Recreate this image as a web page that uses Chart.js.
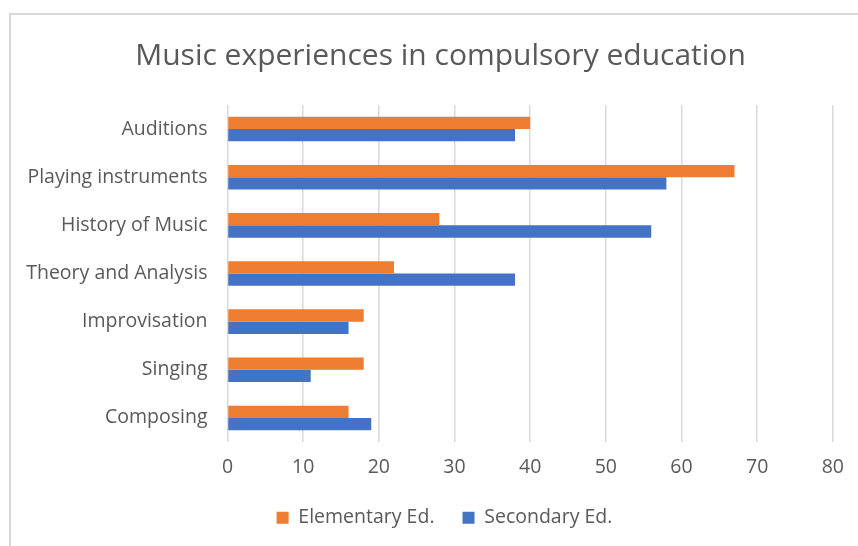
<!DOCTYPE html>
<html>
<head>
<meta charset="utf-8">
<script src="https://cdn.jsdelivr.net/npm/chart.js@4.4.1/dist/chart.umd.min.js"></script>
<style>
    html, body { margin: 0; padding: 0; background: #ffffff; }
    #wrap { width: 858px; height: 546px; position: relative; }
</style>
</head>
<body>
<div id="wrap"><canvas id="musicChart" width="858" height="546"></canvas></div>
<script>
const categories = ['Auditions', 'Playing instruments', 'History of Music', 'Theory and Analysis', 'Improvisation', 'Singing', 'Composing'];
const elementaryValues = [40, 67, 28, 22, 18, 18, 16];
const secondaryValues = [38, 58, 56, 38, 16, 11, 19];
const xTicks = [0, 10, 20, 30, 40, 50, 60, 70, 80];

const fontFamily = '"Open Sans", "Noto Sans", sans-serif';
const textColor = '#595959';

// Light frame round the chart, like the spreadsheet's chart area
const framePlugin = {
    id: 'frame',
    beforeDraw(chart) {
        const ctx = chart.ctx;
        ctx.save();
        ctx.fillStyle = '#ffffff';
        ctx.fillRect(0, 0, chart.width, chart.height);
        ctx.strokeStyle = '#d9d9d9';
        ctx.lineWidth = 2;
        ctx.strokeRect(10, 14, chart.width + 20, chart.height + 20);
        ctx.restore();
    }
};

// Excel centres title and legend on the whole chart box, not on the plot
const centrePlugin = {
    id: 'centre',
    afterLayout(chart) {
        const t = chart.titleBlock;
        if (t) { t.left += 18; t.right += 18; t.top += 1; t.bottom += 1; }
        const l = chart.legend;
        if (l) { l.left += 22; l.right += 22; l.top -= 2; l.bottom -= 2; }
    }
};

function initChart() {
    const ctx = document.getElementById('musicChart').getContext('2d');

    new Chart(ctx, {
        type: 'bar',
        data: {
            labels: categories,
            datasets: [
                {
                    label: 'Elementary Ed.',
                    data: elementaryValues,
                    backgroundColor: '#ED7D31',
                    categoryPercentage: 0.51,
                    barPercentage: 1.0
                },
                {
                    label: 'Secondary Ed.',
                    data: secondaryValues,
                    backgroundColor: '#4472C4',
                    categoryPercentage: 0.51,
                    barPercentage: 1.0
                }
            ]
        },
        options: {
            indexAxis: 'y',
            responsive: false,
            animation: false,
            devicePixelRatio: 1,
            layout: {
                padding: { left: 10, right: 23, top: 0, bottom: 6.5 }
            },
            scales: {
                x: {
                    min: 0,
                    max: 80,
                    afterBuildTicks: scale => {
                        scale.ticks = xTicks.map(v => ({ value: v }));
                    },
                    afterFit: scale => { scale.height = 40; },
                    ticks: {
                        color: textColor,
                        padding: 14,
                        font: { family: fontFamily, size: 19.5 }
                    },
                    grid: { color: '#d9d9d9', lineWidth: 1.5, drawTicks: false },
                    border: { display: false }
                },
                y: {
                    afterFit: scale => { scale.width = 217.5; },
                    ticks: {
                        color: textColor,
                        padding: 20,
                        font: { family: fontFamily, size: 19.5 }
                    },
                    grid: { display: false, drawTicks: false },
                    border: { display: false }
                }
            },
            plugins: {
                title: {
                    display: true,
                    text: 'Music experiences in compulsory education',
                    color: textColor,
                    font: { family: fontFamily, size: 30, weight: 'normal' },
                    padding: { top: 37, bottom: 32 }
                },
                legend: {
                    position: 'bottom',
                    labels: {
                        color: textColor,
                        boxWidth: 12,
                        boxHeight: 12,
                        padding: 28,
                        font: { family: fontFamily, size: 19.5 }
                    }
                },
                tooltip: { enabled: false }
            }
        },
        plugins: [framePlugin, centrePlugin]
    });
}

if (document.readyState === 'loading') {
    document.addEventListener('DOMContentLoaded', initChart);
} else {
    initChart();
}
</script>
</body>
</html>
